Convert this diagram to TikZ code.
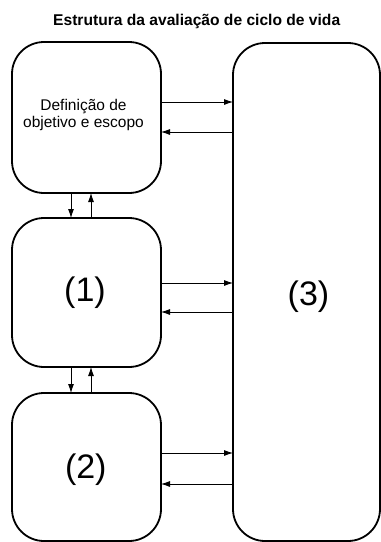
\documentclass[tikz,border=0pt]{standalone}
\usepackage{fontspec}
\setmainfont{Liberation Sans}
\usetikzlibrary{arrows.meta}
\tikzset{
  box/.style={draw=black, line width=1.8pt, rounded corners=32pt, fill=none, inner sep=0pt, outer sep=0pt},
  arr/.style={draw=black, line width=0.8pt, -{Latex[length=9pt,width=6pt]}},
  boxtext/.style={inner sep=0pt, align=center, font=\fontsize{15.5}{17}\selectfont},
  bigtext/.style={inner sep=0pt, font=\fontsize{34}{40}\selectfont},
  titletext/.style={inner sep=0pt, font=\fontsize{15.6}{18}\selectfont\bfseries}
}
\begin{document}
\begin{tikzpicture}[x=1pt, y=-1pt]
\useasboundingbox (0,0) rectangle (381,542);
% boxes
\node[box, minimum width=149pt, minimum height=151pt] (A) at (86.5,117.5) {};
\node[box, minimum width=149pt, minimum height=149pt] (B) at (86.5,292.5) {};
\node[box, minimum width=149pt, minimum height=148pt] (C) at (86.5,467) {};
\node[box, minimum width=147pt, minimum height=498pt] (D) at (306.5,292) {};
% texts
\node[titletext, anchor=base] (title) at (196.7,25) {Estrutura da avaliação de ciclo de vida};
\node[boxtext] (tA) at (83.5,115) {Definição de\\objetivo e escopo};
\node[bigtext] (t1) at (85,293) {(1)};
\node[bigtext] (t2) at (85.8,470) {(2)};
\node[bigtext] (t3) at (308.5,296.5) {(3)};
% horizontal connectors
\draw[arr] (A.east |- 0,102) -- (D.west |- 0,102);
\draw[arr] (D.west |- 0,132) -- (A.east |- 0,132);
\draw[arr] (B.east |- 0,283) -- (D.west |- 0,283);
\draw[arr] (D.west |- 0,312) -- (B.east |- 0,312);
\draw[arr] (C.east |- 0,453) -- (D.west |- 0,453);
\draw[arr] (D.west |- 0,484) -- (C.east |- 0,484);
% vertical connectors
\draw[arr] (A.south -| 71,0) -- (B.north -| 71,0);
\draw[arr] (B.north -| 91,0) -- (A.south -| 91,0);
\draw[arr] (B.south -| 71,0) -- (C.north -| 71,0);
\draw[arr] (C.north -| 91,0) -- (B.south -| 91,0);
\end{tikzpicture}
\end{document}
